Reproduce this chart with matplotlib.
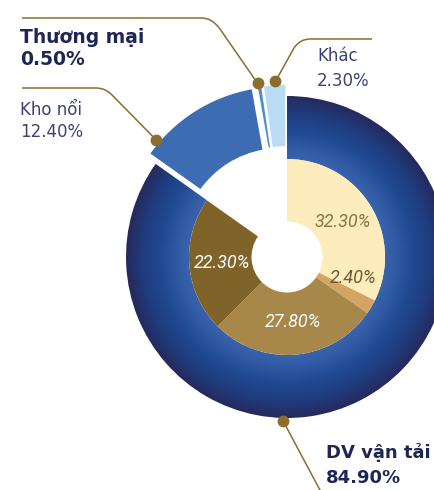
import numpy as np
import matplotlib.pyplot as plt
from matplotlib.colors import LinearSegmentedColormap
from matplotlib.path import Path
from matplotlib.patches import PathPatch

# vòng ngoài: cơ cấu doanh thu (bắt đầu 12 giờ, ngược chiều kim đồng hồ)
nhom_ngoai = ['Khác', 'Thương mại', 'Kho nổi', 'DV vận tải']
ty_le_ngoai = [2.3, 0.5, 12.4, 84.9]
nhan_ngoai = ['2.30%', '0.50%', '12.40%', '84.90%']

# vòng trong: chi tiết DV vận tải (cùng chiều kim đồng hồ)
ty_le_trong = [32.3, 2.4, 27.8, 22.3]

mau_ngoai = ['#b9dcf3', '#4f8fcc', '#3d6cb3', '#22438a']
mau_trong = ['#fdedbd', '#d3a464', '#a8874b', '#7f6329']
mau_nhan_trong = ['#8a7443', '#6d5a36', 'white', 'white']

W, H = 435, 490
CX, CY = 287, H - 257
R_OUT, R_IN, R_HOLE = 161, 98, 35.5
NAU = '#8c6d2e'


def px(x, y):
    # toạ độ pixel (gốc trên-trái) -> toạ độ trục
    return x, H - y


fig = plt.figure(figsize=(W / 100, H / 100), dpi=100)
ax = fig.add_axes([0, 0, 1, 1])

#############################################################
# Vòng ngoài
#############################################################
wedges, _ = ax.pie(ty_le_ngoai, radius=R_OUT, center=(CX, CY), startangle=90,
                   counterclock=True, colors=mau_ngoai, explode=[12, 12, 12, 0],
                   wedgeprops=dict(width=R_OUT - R_IN, edgecolor='white', linewidth=1.2),
                   frame=True)

# gradient cho phần DV vận tải
g = np.linspace(-R_OUT, R_OUT, 500)
X, Y = np.meshgrid(g, g)
Z = np.clip((np.hypot(X, Y) - R_IN) / (R_OUT - R_IN), 0, 1)
cmap = LinearSegmentedColormap.from_list('dv', [(0, '#3a63ac'), (0.2, '#2f5aa3'),
                                                (0.45, '#1f4a91'), (0.75, '#1f3b7d'),
                                                (1, '#262a5c')])
im = ax.imshow(Z, extent=(CX - R_OUT, CX + R_OUT, CY - R_OUT, CY + R_OUT),
               origin='lower', cmap=cmap, zorder=1.5, interpolation='bilinear')
im.set_clip_path(wedges[3])

#############################################################
# Vòng trong
#############################################################
w_in, _, pct = ax.pie([v / 100 for v in ty_le_trong], radius=R_IN, center=(CX, CY),
                      startangle=90, counterclock=False, normalize=False,
                      colors=mau_trong, autopct='%.2f%%', pctdistance=0.67,
                      wedgeprops=dict(width=R_IN - R_HOLE, linewidth=0, zorder=3),
                      textprops=dict(fontsize=13, fontstyle='italic', family='Roboto'),
                      frame=True)
for t, c in zip(pct, mau_nhan_trong):
    t.set_color(c)
    t.set_zorder(4)
# nhãn 2.40% dời ra ngoài lát nhỏ
a = np.deg2rad(-17.6)
pct[1].set_position((CX + 69 * np.cos(a), CY + 69 * np.sin(a)))

#############################################################
# Đường dẫn nhãn
#############################################################
vi_tri_cham = [0.45, 0.75, 0.88, 0.406]  # vị trí dọc cung của mỗi lát


def cham(w, f):
    ang = np.deg2rad(w.theta1 + f * (w.theta2 - w.theta1))
    return w.center[0] + (w.r + 3) * np.cos(ang), w.center[1] + (w.r + 3) * np.sin(ang)


diem = [cham(w, f) for w, f in zip(wedges, vi_tri_cham)]

# (khuỷu, đầu ngang) theo pixel
duong = [
    [px(300, 39), px(294, 48), px(372, 39)],   # Khác
    [px(212, 18), px(220, 29), px(22, 18)],    # Thương mại
    [px(106, 88), px(113, 96), px(22, 88)],    # Kho nổi
]
for (x0, y0), (ctrl, p1, end) in zip(diem[:3], duong):
    # đoạn chéo rồi bo góc sang ngang
    dx = np.sign(end[0] - ctrl[0]) * 10
    verts = [(x0, y0), p1, ctrl, (ctrl[0] + dx, ctrl[1]), end]
    codes = [Path.MOVETO, Path.LINETO, Path.CURVE3, Path.CURVE3, Path.LINETO]
    ax.add_patch(PathPatch(Path(verts, codes), fill=False, edgecolor=NAU, lw=1.1, zorder=5))
x0, y0 = diem[3]
ax.plot([x0, 321], [y0, H - 492], color=NAU, lw=1.1, zorder=5, clip_on=False)
for x, y in diem:
    ax.plot(x, y, 'o', color=NAU, markersize=7.5, zorder=6)

#############################################################
# Nhãn ngoài
#############################################################
dam = dict(fontsize=13.5, fontweight='bold', color='#1f2656')
nhat = dict(fontsize=12, color='#3d4272')
ax.text(*px(20, 43), nhom_ngoai[1], **dam)
ax.text(*px(20, 65), nhan_ngoai[1], **dam)
ax.text(*px(20, 115), nhom_ngoai[2], **nhat)
ax.text(*px(20, 137), nhan_ngoai[2], **nhat)
ax.text(*px(317, 61), nhom_ngoai[0], **nhat)
ax.text(*px(317, 86), nhan_ngoai[0], **nhat)
ax.text(*px(326, 458), nhom_ngoai[3], fontsize=13, fontweight='bold', color='#1f2656')
ax.text(*px(326, 483), nhan_ngoai[3], fontsize=13, fontweight='bold', color='#1f2656')

ax.set_xlim(0, W)
ax.set_ylim(0, H)
ax.set_aspect('equal')
ax.axis('off')
fig.savefig('out.png', dpi=100)
